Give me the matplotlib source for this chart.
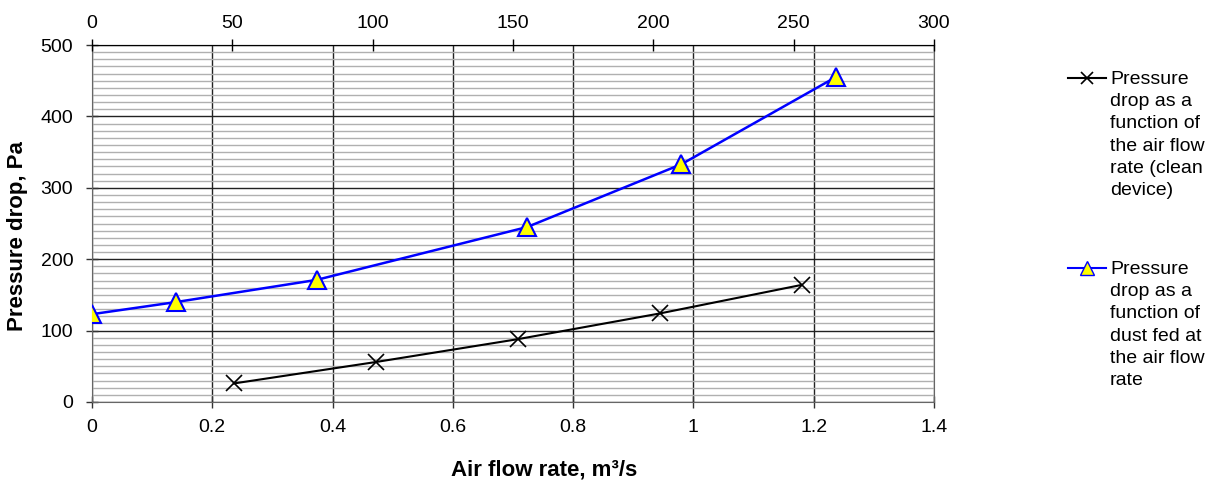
import matplotlib.pyplot as plt
from matplotlib.lines import Line2D
from matplotlib.ticker import MultipleLocator

plt.rcParams['font.family'] = ['Liberation Sans', 'DejaVu Sans']

# Data
air_flow = [0.236, 0.472, 0.708, 0.944, 1.18]
dp_clean = [26, 56, 88, 124, 164]

dust_fed = [0, 30, 80, 155, 210, 265]
dp_dust = [123, 140, 171, 245, 333, 455]

x_ticks = [0, 0.2, 0.4, 0.6, 0.8, 1.0, 1.2, 1.4]
x_ticklabels = ['0', '0.2', '0.4', '0.6', '0.8', '1', '1.2', '1.4']

label_clean = "Pressure\ndrop as a\nfunction of\nthe air flow\nrate (clean\ndevice)"
label_dust = "Pressure\ndrop as a\nfunction of\ndust fed at\nthe air flow\nrate"

W, H = 1205, 482
fig = plt.figure(figsize=(W / 100, H / 100), dpi=100)
ax = fig.add_axes([92 / W, 1 - 402 / H, (934 - 92) / W, (402 - 45) / H])

ax.set_xlim(0, 1.4)
ax.set_ylim(0, 500)
ax.set_xticks(x_ticks)
ax.set_xticklabels(x_ticklabels)
ax.yaxis.set_major_locator(MultipleLocator(100))
ax.yaxis.set_minor_locator(MultipleLocator(10))

ax.grid(which='minor', axis='y', color='#b0b0b0', lw=1)
ax.grid(which='major', axis='y', color='#222222', lw=1)
ax.grid(which='major', axis='x', color='#222222', lw=1)
ax.set_axisbelow(True)
ax.tick_params(axis='both', which='major', direction='inout', length=9, width=1,
               labelsize=14, color='#333333')
ax.tick_params(axis='x', pad=8)
ax.tick_params(axis='y', pad=9)
ax.tick_params(axis='y', which='minor', length=0)
for s in ax.spines.values():
    s.set_color('#666666')

ax.plot(air_flow, dp_clean, color='black', lw=1.5, marker='x', ms=11, mew=1.2,
        zorder=3)

# axis titles (placed on the figure like the original)
fig.text(544 / W, 1 - 470 / H, 'Air flow rate, m³/s', fontsize=16,
         fontweight='bold', ha='center', va='center')
fig.text(18 / W, 1 - 236 / H, 'Pressure drop, Pa', fontsize=16,
         fontweight='bold', ha='center', va='center', rotation=90)

ax2 = ax.twiny()
ax2.set_xlim(0, 300)
ax2.xaxis.set_major_locator(MultipleLocator(50))
ax2.tick_params(axis='x', direction='inout', length=9, width=1, labelsize=14, pad=5)
ax2.spines['top'].set_color('black')
for k in ['left', 'right', 'bottom']:
    ax2.spines[k].set_visible(False)
ax2.plot(dust_fed, dp_dust, color='#0000ff', lw=1.8, marker='^', ms=13,
         mfc='#ffff00', mec='#0000ff', mew=1.5, zorder=4)

# Legend drawn by hand so handles line up with the first text line
entries = [(78, label_clean, dict(color='black', marker='x', ms=9, mew=1.2)),
           (268, label_dust, dict(color='#0000ff', marker='^', ms=10,
                                  mfc='#ffff00', mec='#0000ff'))]
for y_px, lab, st in entries:
    yf = 1 - y_px / H
    fig.add_artist(Line2D([1068 / W, 1087 / W, 1106 / W], [yf, yf, yf], lw=1.5,
                          markevery=[1], **st))
    fig.text(1110 / W, 1 - (y_px - 7) / H, lab, fontsize=14, ha='left', va='top',
             linespacing=1.4)

fig.savefig('out.png', dpi=100)
